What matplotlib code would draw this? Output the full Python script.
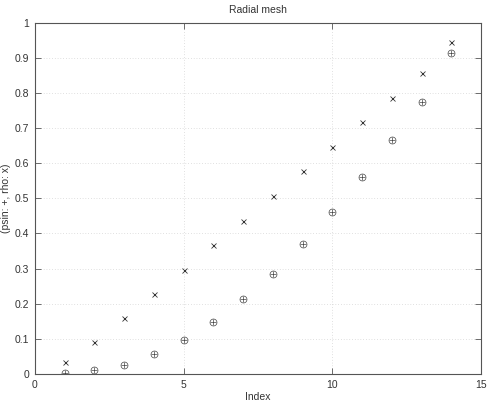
import matplotlib
matplotlib.use('Agg')
import matplotlib.pyplot as plt
import numpy as np

index = np.arange(1, 15)
rho = [0.035, 0.092, 0.159, 0.228, 0.297, 0.366, 0.436, 0.507, 0.577, 0.647, 0.716, 0.786, 0.856, 0.946]
psin = [0.003, 0.010, 0.027, 0.057, 0.098, 0.149, 0.213, 0.286, 0.369, 0.460, 0.562, 0.666, 0.774, 0.915]

plt.rcParams['font.family'] = ['Liberation Sans', 'DejaVu Sans']
plt.rcParams['font.size'] = 7.5

fig = plt.figure(figsize=(4.91, 4.03), dpi=100)
ax = fig.add_axes([35/491, 29/403, 446/491, 351.3/403])

ink = '#444444'
ax.plot(index, psin, linestyle='none', marker='o', ms=5, mfc='none', mec=ink, mew=0.5)
ax.plot(index, psin, linestyle='none', marker='+', ms=5, mec=ink, mew=0.5)
ax.plot(index, rho, linestyle='none', marker='x', ms=3.6, mec='#333333', mew=0.6)

ax.set_xlim(0, 15)
ax.set_ylim(0, 1)
ax.set_xticks([0, 5, 10, 15])
ax.set_yticks(np.arange(0, 11) / 10)
ax.set_yticklabels(['0', '0.1', '0.2', '0.3', '0.4', '0.5', '0.6', '0.7', '0.8', '0.9', '1'])
ax.tick_params(direction='in', length=4, width=0.6, top=True, right=True,
               colors='#555555', labelcolor='#333333', pad=4)
for s in ax.spines.values():
    s.set_color('#555555')
    s.set_linewidth(0.8)
ax.grid(True, linestyle=(0, (1, 3)), color='#c4c4c4', linewidth=0.5)

ax.set_title('Radial mesh', color='#333333', fontsize=7.5, pad=7)
ax.set_xlabel('Index', color='#333333', labelpad=2)
ax.set_ylabel('(psin: +, rho: x)', color='#333333', labelpad=3)

fig.savefig('out.png', dpi=100)
